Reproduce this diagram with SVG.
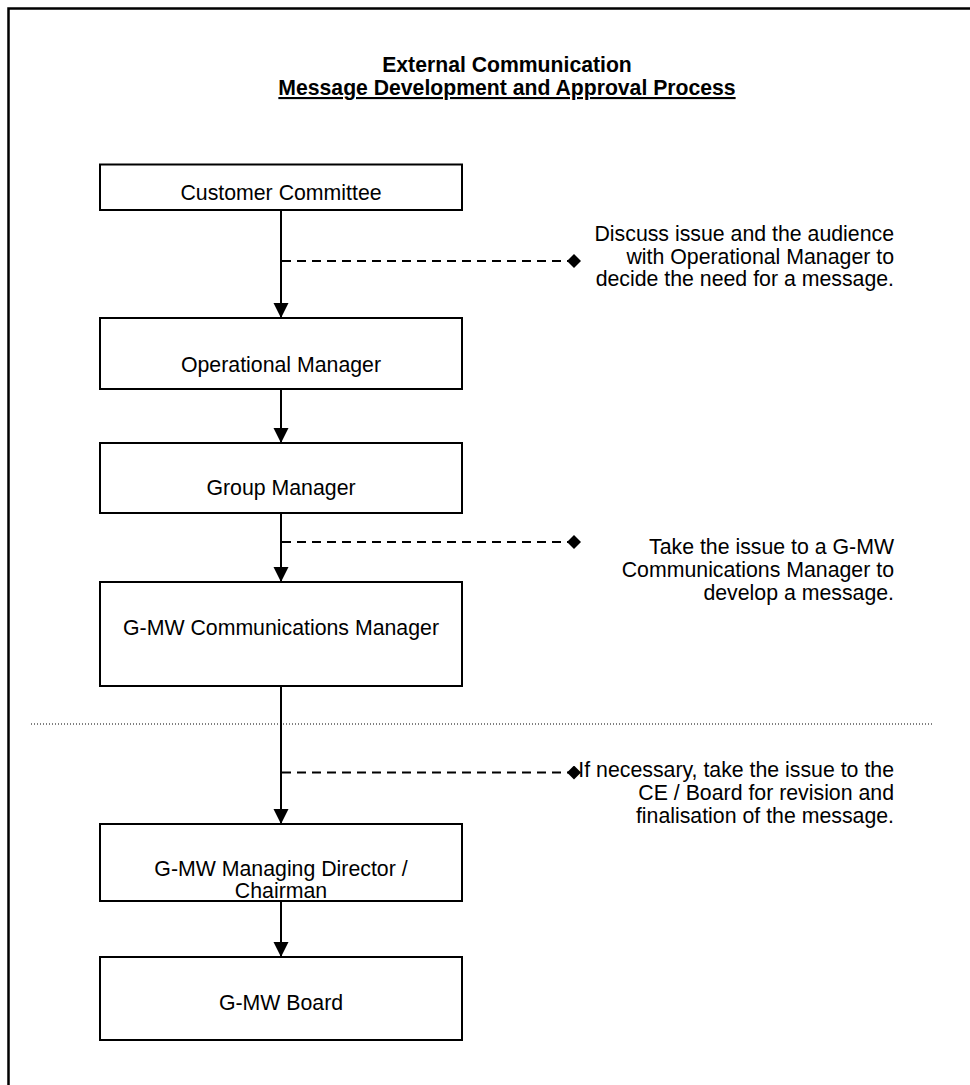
<svg xmlns="http://www.w3.org/2000/svg" width="970" height="1085" viewBox="0 0 970 1085">
<style>
  .box { fill: #ffffff; stroke: #000000; stroke-width: 2; }
  .lbl { font-family: "Liberation Sans", Arial, sans-serif; font-size: 21.3px; fill: #000000; text-anchor: middle; }
  .note { font-family: "Liberation Sans", Arial, sans-serif; font-size: 21.3px; fill: #000000; text-anchor: end; }
  .title { font-family: "Liberation Sans", Arial, sans-serif; font-size: 21.2px; font-weight: bold; fill: #000000; text-anchor: middle; }
  .flow { stroke: #000000; stroke-width: 2; fill: none; }
  .dash { stroke: #000000; stroke-width: 2; stroke-dasharray: 9 6; fill: none; }
</style>
<defs>
  <marker id="arrow" markerUnits="userSpaceOnUse" markerWidth="16" markerHeight="16" refX="15" refY="7.5" orient="auto">
    <path d="M0,0 L15,7.5 L0,15 Z" fill="#000000"/>
  </marker>
  <marker id="diamond" markerUnits="userSpaceOnUse" markerWidth="16" markerHeight="16" refX="7" refY="7" orient="auto">
    <path d="M0,7 L7,0 L14,7 L7,14 Z" fill="#000000"/>
  </marker>
</defs>
<rect x="0" y="0" width="970" height="1085" fill="#ffffff"/>
<path d="M8.5,1090 L8.5,8.5 L975,8.5" fill="none" stroke="#000000" stroke-width="2.5"/>

<g id="title">
  <text class="title" x="507" y="71.5">External Communication</text>
  <text class="title" x="507" y="95" text-decoration="underline">Message Development and Approval Process</text>
</g>

<line id="divider" x1="31" y1="724" x2="934" y2="724" stroke="#000000" stroke-width="1" stroke-dasharray="1 2"/>

<g id="connectors">
  <line class="flow" x1="281" y1="210" x2="281" y2="318" marker-end="url(#arrow)"/>
  <line class="flow" x1="281" y1="389" x2="281" y2="443" marker-end="url(#arrow)"/>
  <line class="flow" x1="281" y1="513" x2="281" y2="582" marker-end="url(#arrow)"/>
  <line class="flow" x1="281" y1="686" x2="281" y2="824" marker-end="url(#arrow)"/>
  <line class="flow" x1="281" y1="901" x2="281" y2="957" marker-end="url(#arrow)"/>
  <line class="dash" x1="282" y1="261" x2="574" y2="261" marker-end="url(#diamond)"/>
  <line class="dash" x1="282" y1="542" x2="574" y2="542" marker-end="url(#diamond)"/>
  <line class="dash" x1="282" y1="772.5" x2="574" y2="772.5" marker-end="url(#diamond)"/>
</g>

<g id="customer-committee">
  <rect class="box" x="100" y="164.5" width="362" height="45.5"/>
  <text class="lbl" x="281" y="199.5">Customer Committee</text>
</g>
<g id="operational-manager">
  <rect class="box" x="100" y="318" width="362" height="71"/>
  <text class="lbl" x="281" y="372">Operational Manager</text>
</g>
<g id="group-manager">
  <rect class="box" x="100" y="443" width="362" height="70"/>
  <text class="lbl" x="281" y="495">Group Manager</text>
</g>
<g id="communications-manager">
  <rect class="box" x="100" y="582" width="362" height="104"/>
  <text class="lbl" x="281" y="635">G-MW Communications Manager</text>
</g>
<g id="managing-director">
  <rect class="box" x="100" y="824" width="362" height="77"/>
  <text class="lbl" x="281" y="875.5">G-MW Managing Director /</text>
  <text class="lbl" x="281" y="898">Chairman</text>
</g>
<g id="board">
  <rect class="box" x="100" y="957" width="362" height="83"/>
  <text class="lbl" x="281" y="1010">G-MW Board</text>
</g>

<g id="note-1">
  <text class="note" x="894" y="241">Discuss issue and the audience</text>
  <text class="note" x="894" y="263.5">with Operational Manager to</text>
  <text class="note" x="894" y="286">decide the need for a message.</text>
</g>
<g id="note-2">
  <text class="note" x="894" y="553.5">Take the issue to a G-MW</text>
  <text class="note" x="894" y="576.5">Communications Manager to</text>
  <text class="note" x="894" y="599.5">develop a message.</text>
</g>
<g id="note-3">
  <text class="note" x="894" y="777">If necessary, take the issue to the</text>
  <text class="note" x="894" y="800">CE / Board for revision and</text>
  <text class="note" x="894" y="823">finalisation of the message.</text>
</g>
</svg>
